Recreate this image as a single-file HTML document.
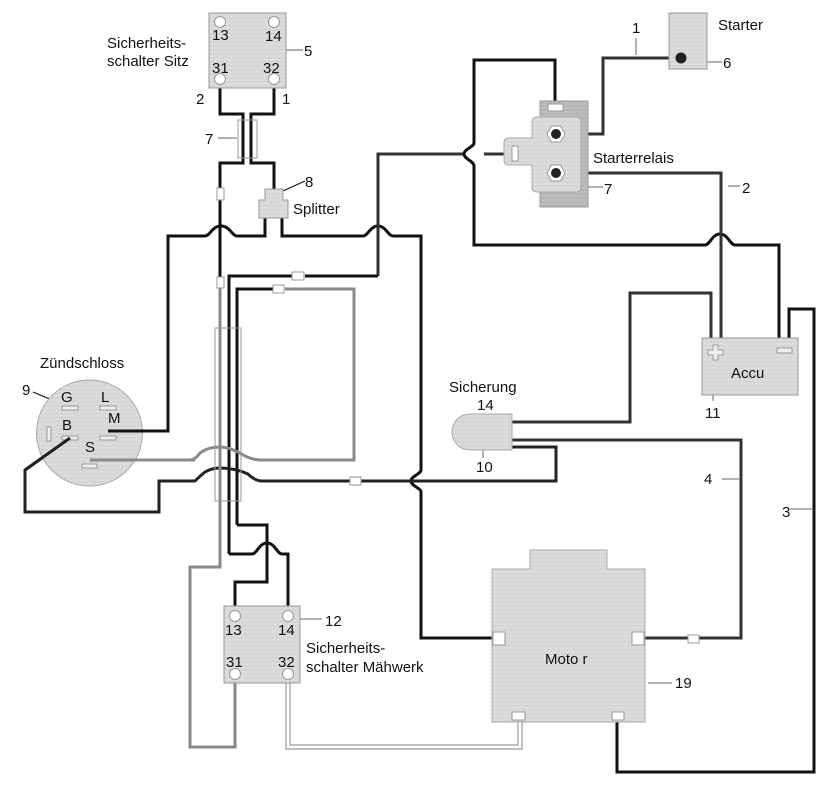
<!DOCTYPE html>
<html><head><meta charset="utf-8"><style>
html,body{margin:0;padding:0;background:#fff;}
svg{display:block;}
text{font-family:"Liberation Sans",sans-serif;font-size:15px;fill:#111;}
</style></head><body>
<svg width="836" height="807" viewBox="0 0 836 807" xmlns="http://www.w3.org/2000/svg">
<defs>
<pattern id="st" width="4" height="4" patternUnits="userSpaceOnUse"><rect width="4" height="4" fill="#dcdcdc"/><rect x="1" y="1" width="1" height="1" fill="#bdbdbd"/><rect x="3" y="2" width="1" height="1" fill="#c8c8c8"/></pattern>
<pattern id="st2" width="4" height="4" patternUnits="userSpaceOnUse"><rect width="4" height="4" fill="#bdbdbd"/><rect x="1" y="1" width="1" height="1" fill="#9a9a9a"/><rect x="3" y="2" width="1" height="1" fill="#a8a8a8"/></pattern>
</defs>
<g fill="none" stroke-linejoin="miter">
<path d="M220 88 V114 H243 V163 H220 V288" stroke="#111" stroke-width="3"/>
<path d="M274 88 V114 H251 V163 H274 V190" stroke="#111" stroke-width="3"/>
<path d="M265 218 V236 H237 C232 236 230 226 221 226 C212 226 210 236 205 236 H168 V431 H108" stroke="#111" stroke-width="3"/>
<path d="M282 218 V236 H363 C368 236 370 226 378 226 C386 226 388 236 393 236 H421 V470 C421 474 411 476 411 481 C411 486 421 488 421 492 V638 H493" stroke="#111" stroke-width="3"/>
<path d="M378 276 V154 H464 M484 154 H505" stroke="#333" stroke-width="3"/>
<path d="M229 554 V276 H292 M305 276 H378" stroke="#111" stroke-width="3"/>
<path d="M237 525 V289 H273" stroke="#111" stroke-width="3"/>
<path d="M285 289 H354 V460 H262 Q250 460 240 453 Q228 447 220 447 Q208 447 200 453 Q195 460 190 460 H90" stroke="#8a8a8a" stroke-width="3"/>
<path d="M70 438 L25 470 V512 H159 V481 H195 Q200 476 205 472 Q212 468 220 468 Q235 468 248 474 Q255 481 262 481 H350 M361 481 H556 V447 H512" stroke="#222" stroke-width="3"/>
<path d="M220 288 V567 H190 V747 H235 V683" stroke="#888" stroke-width="3"/>
<path d="M237 525 H267 V582 H235 V608" stroke="#111" stroke-width="3"/>
<path d="M229 554 H252 C257 554 259 543 267 543 C275 543 277 554 282 554 H288 V608" stroke="#111" stroke-width="3"/>
<path d="M555 102 V60 H474 V143 C474 147 464 149 464 154 C464 159 474 161 474 166 V245 H705 C710 245 712 234 720 234 C728 234 730 245 735 245 H779 V338" stroke="#111" stroke-width="3"/>
<path d="M556 134 H603 V58 H681" stroke="#333" stroke-width="3"/>
<path d="M556 173 H721 V338" stroke="#333" stroke-width="3"/>
<path d="M512 422 H630 V293 H711 V338" stroke="#333" stroke-width="3"/>
<path d="M512 440 H741 V638 H699 M688 638 H644" stroke="#333" stroke-width="3"/>
<path d="M789 338 V309 H814 V772 H617 V718" stroke="#111" stroke-width="3"/>
<path d="M286 683 V749 H522 V716 M290 683 V745 H518 V716" stroke="#999" stroke-width="1.2"/>
<rect x="238" y="120" width="19" height="38" stroke="#999" stroke-width="1"/>
<rect x="215" y="328" width="26" height="173" stroke="#999" stroke-width="1"/>
<path d="M286 50 H303 M218 138 H237 M588 187 H603 M707 62 H722 M636 38 V55 M728 186 H740 M713 395 V401 M300 619 H322 M648 683 H672 M722 479 H740 M790 509 H814 M483 450 V458" stroke="#666" stroke-width="1"/>
<path d="M33 392 L52 400 M283 191 L305 181" stroke="#111" stroke-width="1.2"/>
</g>
<rect x="209" y="13" width="77" height="75" fill="url(#st)" stroke="#999"/>
<g fill="#fff" stroke="#999"><circle cx="220" cy="22" r="5.5"/><circle cx="274" cy="22" r="5.5"/><circle cx="220" cy="79" r="5.5"/><circle cx="274" cy="79" r="5.5"/></g>
<text x="212" y="40">13</text><text x="265" y="41">14</text><text x="212" y="73">31</text><text x="263" y="73">32</text>
<text x="304" y="56">5</text>
<text x="107" y="48">Sicherheits-</text><text x="107" y="66">schalter Sitz</text>
<text x="196" y="104">2</text><text x="282" y="104">1</text>
<text x="205" y="144">7</text>
<g fill="#fff" stroke="#999"><rect x="217" y="188" width="7" height="12"/><rect x="217" y="277" width="7" height="11"/><rect x="292" y="272" width="12" height="8"/><rect x="273" y="285" width="11" height="8"/><rect x="350" y="477" width="11" height="8"/><rect x="688" y="635" width="11" height="8"/></g>
<path d="M265 189 H283 V200 H288 V218 H259 V200 H265 Z" fill="url(#st)" stroke="#999"/>
<text x="305" y="187">8</text><text x="293" y="214">Splitter</text>
<rect x="669" y="13" width="38" height="56" fill="url(#st)" stroke="#999"/>
<circle cx="681" cy="58" r="5.5" fill="#222"/>
<text x="718" y="30">Starter</text><text x="723" y="68">6</text><text x="632" y="33">1</text>
<rect x="540" y="101" width="48" height="106" fill="url(#st2)" stroke="#999"/>
<rect x="548" y="104" width="15" height="7" fill="#fff" stroke="#999"/>
<path d="M537 117 H576 Q581 117 581 122 V187 Q581 192 576 192 H537 Q532 192 532 187 V165 H509 Q504 165 504 160 V143 Q504 138 509 138 H532 V122 Q532 117 537 117 Z" fill="url(#st)" stroke="#aaa"/>
<rect x="512" y="146" width="6" height="15" fill="#fff" stroke="#999"/>
<g fill="#fff" stroke="#999"><polygon points="547,134 551.5,126 560.5,126 565,134 560.5,142 551.5,142"/><polygon points="547,173 551.5,165 560.5,165 565,173 560.5,181 551.5,181"/></g>
<circle cx="556" cy="134" r="5" fill="#222"/><circle cx="556" cy="173" r="5" fill="#222"/>
<text x="593" y="163">Starterrelais</text><text x="604" y="194">7</text><text x="742" y="193">2</text>
<rect x="702" y="338" width="96" height="57" fill="url(#st)" stroke="#999"/>
<path d="M713 345 h5 v5 h5 v5 h-5 v5 h-5 v-5 h-5 v-5 h5 z" fill="#eee" stroke="#999"/>
<rect x="777" y="348" width="15" height="5" fill="#eee" stroke="#999"/>
<text x="731" y="378" style="font-size:15px">Accu</text>
<text x="705" y="418">11</text>
<path d="M470 414 H512 V450 H470 A18 18 0 0 1 470 414 Z" fill="url(#st)" stroke="#aaa"/>
<text x="449" y="392">Sicherung</text><text x="477" y="410">14</text><text x="476" y="472">10</text>
<text x="704" y="484">4</text><text x="782" y="517">3</text>
<circle cx="89.5" cy="433" r="53" fill="url(#st)" stroke="#aaa"/>
<g fill="#eee" stroke="#999"><rect x="62" y="406" width="16" height="4"/><rect x="100" y="406" width="16" height="4"/><rect x="62" y="436" width="16" height="4"/><rect x="100" y="436" width="16" height="4"/><rect x="47" y="427" width="4" height="14"/><rect x="82" y="464" width="15" height="4"/></g>
<text x="61" y="402">G</text><text x="101" y="402">L</text><text x="108" y="423">M</text><text x="62" y="430">B</text><text x="85" y="452">S</text>
<text x="22" y="395">9</text><text x="40" y="368">Zündschloss</text>
<path d="M108 431 H168" stroke="#111" stroke-width="3"/>
<path d="M70 438 L25 470" stroke="#222" stroke-width="3"/>
<path d="M90 460 H195" stroke="#8a8a8a" stroke-width="3"/>
<rect x="224" y="606" width="76" height="77" fill="url(#st)" stroke="#999"/>
<g fill="#fff" stroke="#999"><circle cx="235" cy="616" r="5.5"/><circle cx="288" cy="616" r="5.5"/><circle cx="235" cy="674" r="5.5"/><circle cx="288" cy="674" r="5.5"/></g>
<text x="225" y="635">13</text><text x="278" y="635">14</text><text x="226" y="667">31</text><text x="278" y="667">32</text>
<text x="325" y="626">12</text>
<text x="306" y="653">Sicherheits-</text><text x="306" y="672">schalter Mähwerk</text>
<path d="M530 550 H607 V569 H645 V722 H492 V569 H530 Z" fill="url(#st)" stroke="#aaa"/>
<g fill="#fff" stroke="#999"><rect x="493" y="632" width="12" height="13"/><rect x="632" y="632" width="12" height="13"/><rect x="512" y="712" width="13" height="8"/><rect x="612" y="712" width="12" height="8"/></g>
<text x="545" y="664">Moto r</text><text x="675" y="688">19</text>
</svg>
</body></html>
